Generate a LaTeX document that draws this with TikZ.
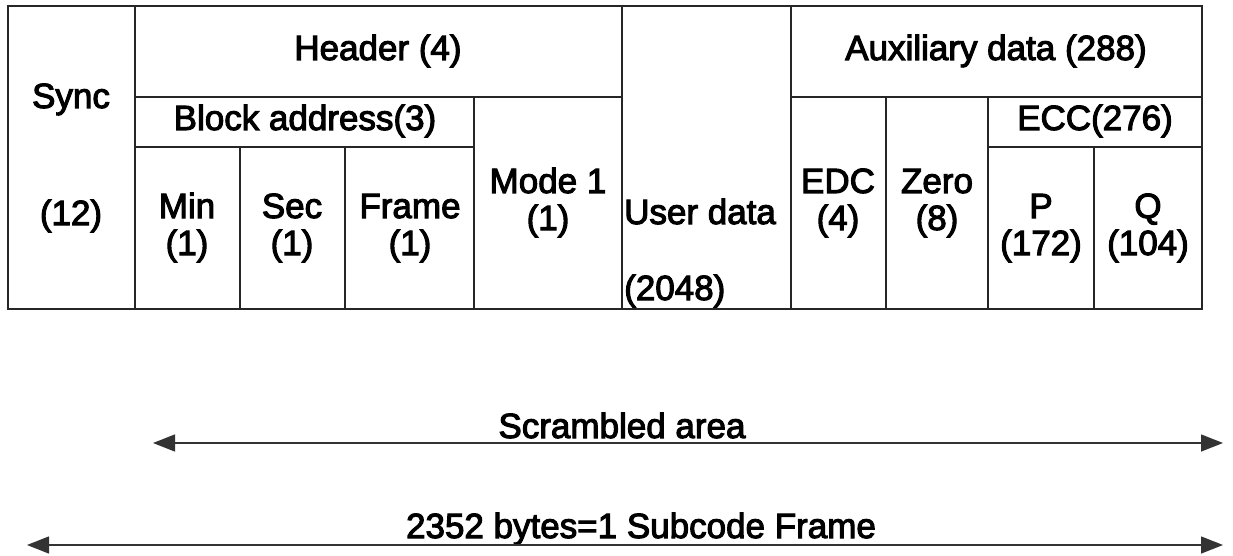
\documentclass[tikz,border=0pt]{standalone}
\usepackage{fontspec}
\setmainfont{Liberation Sans}
\newfontfamily\cellfont[FakeBold=3]{Liberation Sans}
\usetikzlibrary{arrows.meta}
\begin{document}
\begin{tikzpicture}[x=1pt,y=-1pt,
  grid/.style={draw=black!85,line width=1.6pt},
  lbl/.style={anchor=base,inner sep=0pt,font=\cellfont\fontsize{35}{40}\selectfont},
  lblw/.style={lbl,anchor=base west},
  span/.style={draw=black!80,line width=1.4pt,
    {Triangle[length=22pt,width=17pt]}-{Triangle[length=22pt,width=17pt]}}]
\useasboundingbox (0,0) rectangle (1233,556);

% sector layout: outer frame and cell borders
\draw[grid] (8,6) rectangle (1202,309);
\draw[grid] (135,6) -- (135,309);
\draw[grid] (622,6) -- (622,309);
\draw[grid] (791,6) -- (791,309);
\draw[grid] (135,97) -- (622,97);
\draw[grid] (791,97) -- (1202,97);
\draw[grid] (135,147) -- (474,147);
\draw[grid] (988,147) -- (1202,147);
\draw[grid] (474,97) -- (474,309);
\draw[grid] (240,147) -- (240,309);
\draw[grid] (345,147) -- (345,309);
\draw[grid] (886,97) -- (886,309);
\draw[grid] (988,97) -- (988,309);
\draw[grid] (1094,147) -- (1094,309);

% field labels
\node[lbl] (sync)   at (71,108)   {Sync};
\node[lbl] (syncN)  at (71,225)   {(12)};
\node[lbl] (hdr)    at (378,60)   {Header (4)};
\node[lbl] (blk)    at (305,130)  {Block address(3)};
\node[lbl] (min)    at (187,218)  {Min};
\node[lbl] (minN)   at (187,255)  {(1)};
\node[lbl] (sec)    at (292,218)  {Sec};
\node[lbl] (secN)   at (292,255)  {(1)};
\node[lbl] (frm)    at (410,218)  {Frame};
\node[lbl] (frmN)   at (410,255)  {(1)};
\node[lbl] (mode)   at (548,193)  {Mode 1};
\node[lbl] (modeN)  at (548,230)  {(1)};
\node[lblw] (user)  at (624,224)  {User data};
\node[lblw] (userN) at (624,300)  {(2048)};
\node[lbl] (aux)    at (996,60)   {Auxiliary data (288)};
\node[lbl] (edc)    at (838,193)  {EDC};
\node[lbl] (edcN)   at (838,230)  {(4)};
\node[lbl] (zero)   at (937,193)  {Zero};
\node[lbl] (zeroN)  at (937,230)  {(8)};
\node[lbl] (ecc)    at (1095,130) {ECC(276)};
\node[lbl] (p)      at (1041,218) {P};
\node[lbl] (pN)     at (1041,255) {(172)};
\node[lbl] (q)      at (1148,218) {Q};
\node[lbl] (qN)     at (1148,255) {(104)};

% extent arrows
\coordinate (scrL) at (153,443);
\coordinate (scrR) at (1223,443);
\coordinate (allL) at (27,545);
\coordinate (allR) at (1223,545);
\node[lbl] (scr) at (622,438) {Scrambled area};
\node[lbl] (all) at (641,538) {2352 bytes=1 Subcode Frame};
\draw[span] (scrL) -- (scrR);
\draw[span] (allL) -- (allR);
\end{tikzpicture}
\end{document}
